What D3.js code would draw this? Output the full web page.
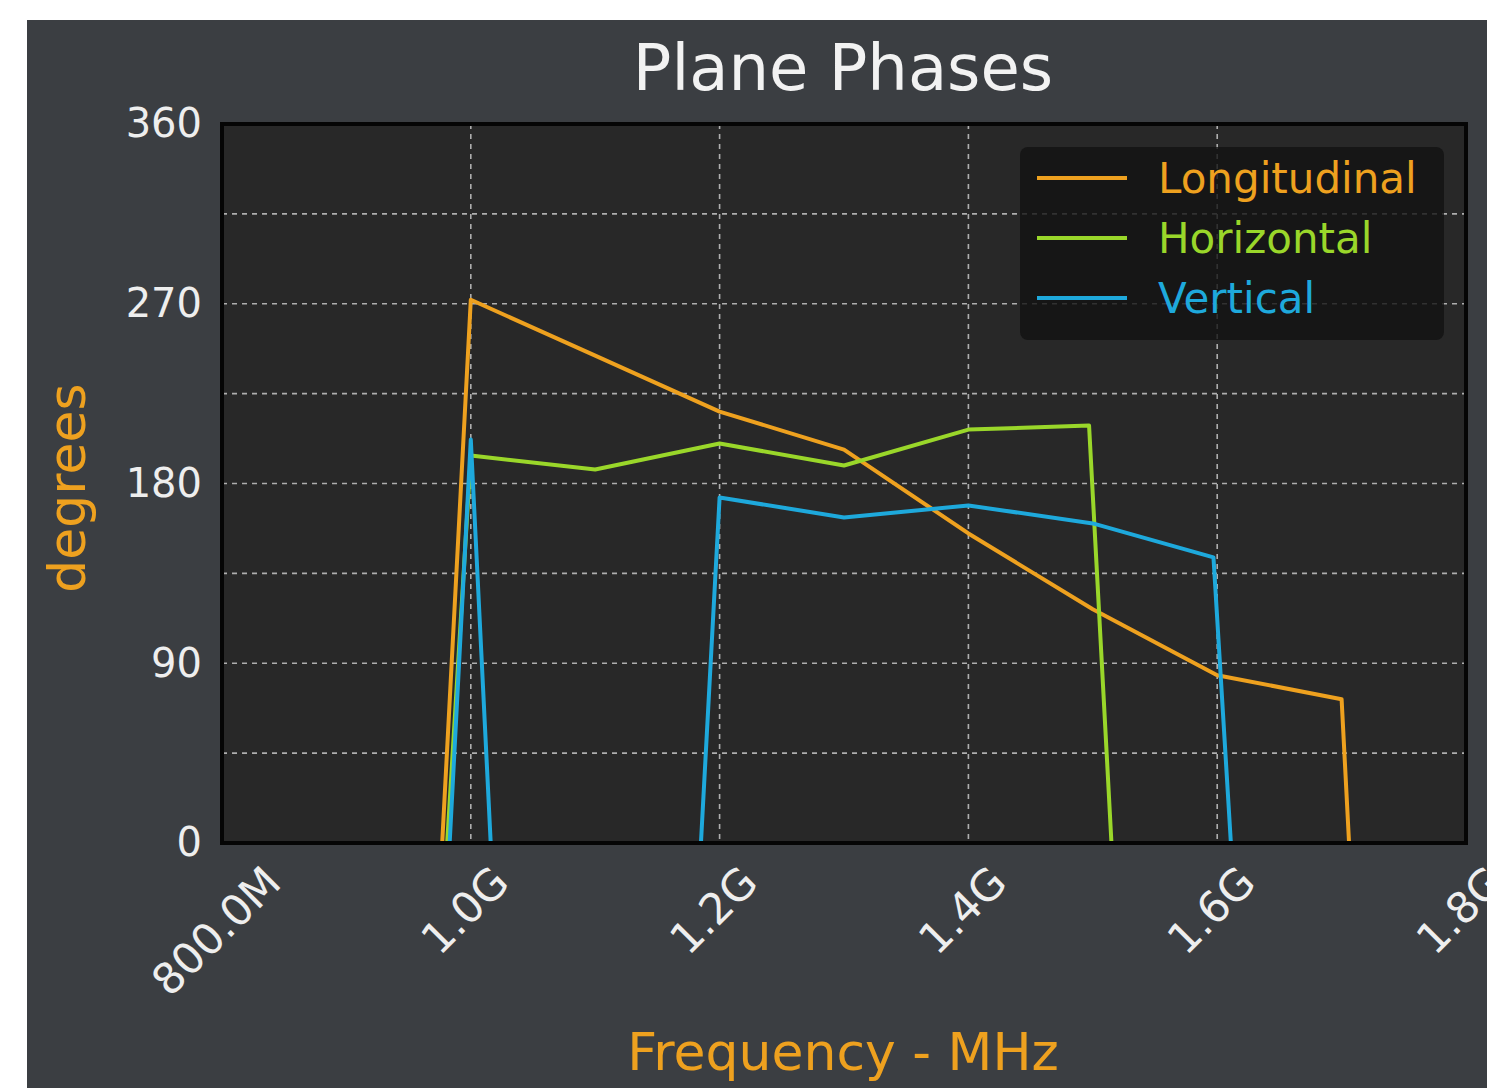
<!DOCTYPE html>
<meta charset="utf-8">
<title>Plane Phases</title>
<style>
body { margin: 0; background: #ffffff; }
text { font-family: "DejaVu Sans", sans-serif; }
.grid line { stroke: #d0d0d0; stroke-width: 1.6px; stroke-dasharray: 5,5; opacity: 0.8; }
.series { fill: none; stroke-width: 4px; stroke-linejoin: round; }
</style>
<script src="https://d3js.org/d3.v7.min.js"></script>
<body>
<script>
var width = 1487;
var height = 1088;

// frequencies in MHz, phases in degrees
var longFreq  = [977, 1000, 1100, 1200, 1300, 1400, 1500, 1600, 1700, 1706];
var longPhase = [0, 272, 244, 216, 197, 155, 117, 84, 72, 0];
var horFreq   = [981, 1000, 1100, 1200, 1300, 1400, 1497, 1515];
var horPhase  = [0, 194, 187, 200, 189, 207, 209, 0];
var vertFreq  = [983, 1000, 1016, 1185, 1200, 1300, 1400, 1500, 1597, 1611];
var vertPhase = [0, 202, 0, 0, 173, 163, 169, 160, 143, 0];

var seriesNames = ["Longitudinal", "Horizontal", "Vertical"];
var seriesColors = ["#eea11f", "#9ad72a", "#1ea9dc"];
var xTicks = [800, 1000, 1200, 1400, 1600, 1800];
var xTickLabels = ["800.0M", "1.0G", "1.2G", "1.4G", "1.6G", "1.8G"];
var yTicks = [0, 90, 180, 270, 360];
var yGrid = [45, 90, 135, 180, 225, 270, 315];

var series = [
  {name: seriesNames[0], color: seriesColors[0], f: longFreq, p: longPhase},
  {name: seriesNames[1], color: seriesColors[1], f: horFreq, p: horPhase},
  {name: seriesNames[2], color: seriesColors[2], f: vertFreq, p: vertPhase}
];

var svg = d3.select("body").append("svg")
    .attr("width", width)
    .attr("height", height);

// dark figure background with white strip top/left
svg.append("rect")
    .attr("x", 27).attr("y", 20)
    .attr("width", width - 27).attr("height", height - 20)
    .attr("fill", "#3b3e42");

var plotL = 222, plotR = 1466, plotT = 124, plotB = 843;

var x = d3.scaleLinear().domain([800, 1800]).range([plotL, plotR]);
var y = d3.scaleLinear().domain([0, 360]).range([plotB, plotT]);

svg.append("clipPath").attr("id", "plotclip")
  .append("rect")
    .attr("x", plotL).attr("y", plotT)
    .attr("width", plotR - plotL).attr("height", plotB - plotT);

svg.append("rect")
    .attr("x", plotL).attr("y", plotT)
    .attr("width", plotR - plotL).attr("height", plotB - plotT)
    .attr("fill", "#282828");

// grid
var grid = svg.append("g").attr("class", "grid");
grid.selectAll(".vg")
    .data(xTicks.slice(1, -1))
  .enter().append("line")
    .attr("x1", function(d) { return x(d); })
    .attr("x2", function(d) { return x(d); })
    .attr("y1", plotT).attr("y2", plotB);
grid.selectAll(".hg")
    .data(yGrid)
  .enter().append("line")
    .attr("x1", plotL).attr("x2", plotR)
    .attr("y1", function(d) { return y(d); })
    .attr("y2", function(d) { return y(d); });

// lines
var line = d3.line()
    .x(function(d) { return x(d[0]); })
    .y(function(d) { return y(d[1]); });

svg.append("g")
    .attr("clip-path", "url(#plotclip)")
  .selectAll("path")
    .data(series)
  .enter().append("path")
    .attr("class", "series")
    .attr("stroke", function(d) { return d.color; })
    .attr("d", function(d) { return line(d3.zip(d.f, d.p)); });

// frame
svg.append("rect")
    .attr("x", plotL).attr("y", plotT)
    .attr("width", plotR - plotL).attr("height", plotB - plotT)
    .attr("fill", "none")
    .attr("stroke", "#050505")
    .attr("stroke-width", 4);

// y axis
var yAxis = d3.axisLeft(y)
    .tickValues(yTicks)
    .tickSize(0)
    .tickPadding(20);
var gy = svg.append("g")
    .attr("transform", "translate(" + plotL + ",0)")
    .call(yAxis);
gy.select(".domain").remove();
gy.selectAll("text")
    .attr("fill", "#eeeeee")
    .attr("font-size", 40)
    .attr("font-family", "DejaVu Sans");

// x axis labels, rotated 45 degrees, centred on the tick
var gx = svg.append("g");
xTicks.forEach(function(t, i) {
  var txt = gx.append("text")
      .attr("fill", "#eeeeee")
      .attr("font-size", 43)
      .attr("text-anchor", "middle")
      .attr("dominant-baseline", "central")
      .text(xTickLabels[i]);
  var len = txt.node().getComputedTextLength();
  var h = (len + 32) * Math.SQRT1_2;
  var cy = plotB + 20 + h / 2;
  txt.attr("transform", "translate(" + (x(t) - 6) + "," + cy + ") rotate(-45)");
});

// titles
svg.append("text")
    .attr("x", 843).attr("y", 90)
    .attr("text-anchor", "middle")
    .attr("fill", "#f2f2f2")
    .attr("font-size", 64)
    .text("Plane Phases");

svg.append("text")
    .attr("x", 843).attr("y", 1070)
    .attr("text-anchor", "middle")
    .attr("fill", "#eea11f")
    .attr("font-size", 52)
    .text("Frequency - MHz");

svg.append("text")
    .attr("transform", "translate(85,488) rotate(-90)")
    .attr("text-anchor", "middle")
    .attr("fill", "#eea11f")
    .attr("font-size", 52)
    .text("degrees");

// legend
var legend = svg.append("g");
legend.append("rect")
    .attr("x", 1020).attr("y", 147)
    .attr("width", 424).attr("height", 193)
    .attr("rx", 8)
    .attr("fill", "#111111")
    .attr("opacity", 0.8);
series.forEach(function(s, i) {
  var ly = 178 + i * 60;
  legend.append("line")
      .attr("x1", 1037).attr("x2", 1127)
      .attr("y1", ly).attr("y2", ly)
      .attr("stroke", s.color)
      .attr("stroke-width", 4);
  legend.append("text")
      .attr("x", 1158).attr("y", ly)
      .attr("dominant-baseline", "central")
      .attr("fill", s.color)
      .attr("font-size", 42)
      .text(s.name);
});
</script>
</body>
